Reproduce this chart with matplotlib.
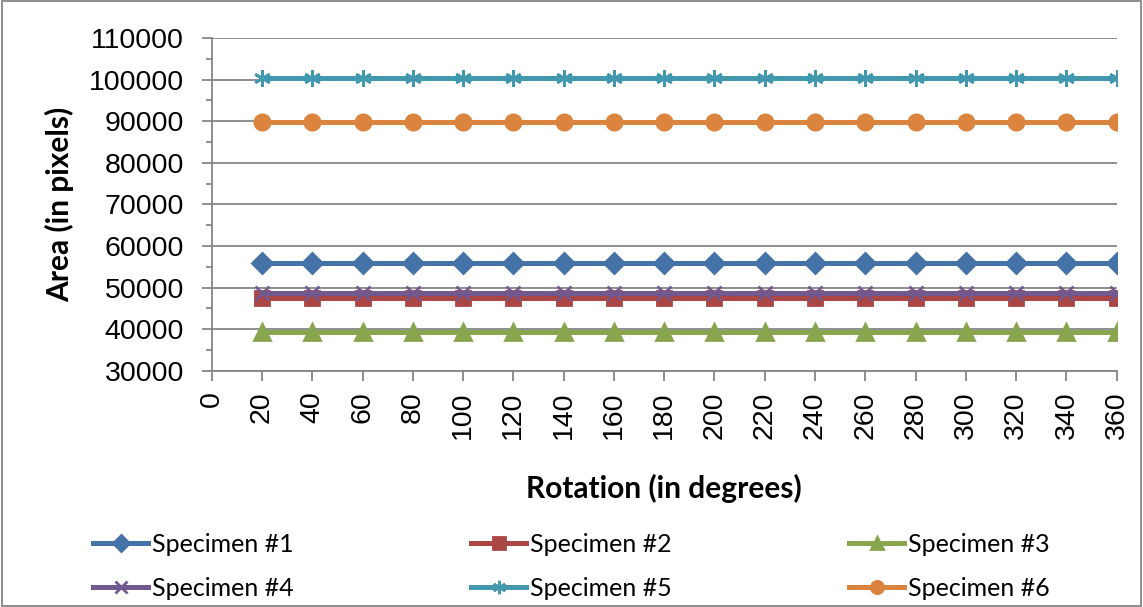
import matplotlib
matplotlib.use("Agg")
import matplotlib.pyplot as plt
from matplotlib.patches import Rectangle
from matplotlib.ticker import MultipleLocator

# Rotation angles (degrees) and measured areas (pixels) per specimen
rotation = [20, 40, 60, 80, 100, 120, 140, 160, 180, 200,
            220, 240, 260, 280, 300, 320, 340, 360]
specimen_1 = [56000] * 18
specimen_2 = [47500] * 18
specimen_3 = [39300] * 18
specimen_4 = [48700] * 18
specimen_5 = [100400] * 18
specimen_6 = [89800] * 18

x_ticks = list(range(0, 361, 20))
y_ticks = list(range(30000, 110001, 10000))

series_names = ["Specimen #1", "Specimen #2", "Specimen #3",
                "Specimen #4", "Specimen #5", "Specimen #6"]
series_values = [specimen_1, specimen_2, specimen_3,
                 specimen_4, specimen_5, specimen_6]

colors = ["#4572A7", "#AA4643", "#89A54E", "#71588F", "#4198AF", "#DB843D"]
markers = ["D", "s", "^", "x", (6, 2, 0), "o"]
msizes = [10, 10, 11, 10, 12, 11]

tick_font = "Liberation Sans"
label_font = "Lato"

fig = plt.figure(figsize=(11.43, 6.07), dpi=100)
ax = fig.add_axes([0.1852, 0.3893, 0.977 - 0.1852, 0.9374 - 0.3893])

handles = []
for name, vals, c, m, ms in zip(series_names, series_values, colors, markers, msizes):
    h, = ax.plot(rotation, vals, color=c, lw=3.6, marker=m, ms=ms,
                 mew=2.0, mec=c, mfc=c, label=name, zorder=3)
    handles.append(h)

ax.set_xlim(0, 360)
ax.set_ylim(30000, 110000)
ax.set_xticks(x_ticks)
ax.set_yticks(y_ticks)
ax.yaxis.set_minor_locator(MultipleLocator(5000))

grid_c = "#868686"
ax.grid(axis="y", which="major", color=grid_c, lw=1.3, zorder=0)
for side in ("top", "right"):
    ax.spines[side].set_visible(False)
for side in ("left", "bottom"):
    ax.spines[side].set_color(grid_c)
    ax.spines[side].set_linewidth(1.3)

ax.tick_params(axis="both", which="major", direction="out", length=7,
               width=1.3, color=grid_c)
ax.tick_params(axis="y", which="minor", direction="out", length=4.5,
               width=1.3, color=grid_c)
ax.tick_params(axis="x", which="minor", bottom=False)

ax.set_xticklabels([str(v) for v in x_ticks], rotation=90,
                   fontsize=20.5, family=tick_font)
ax.set_yticklabels([str(v) for v in y_ticks], fontsize=20.5, family=tick_font)
ax.tick_params(axis="x", pad=8)
ax.tick_params(axis="y", pad=13)

ax.set_xlabel("Rotation (in degrees)", fontsize=21.5, fontweight="bold",
              family=label_font)
ax.xaxis.set_label_coords(0.5, -0.31)
ax.set_ylabel("Area (in pixels)", fontsize=21.5, fontweight="bold",
              family=label_font)
ax.yaxis.set_label_coords(-0.152, 0.5)

# legend is filled column by column, so order handles to read row by row
order = [0, 3, 1, 4, 2, 5]
fig.legend(handles=[handles[i] for i in order], loc="center left",
           bbox_to_anchor=(93 / 1143, 0.0675), ncol=3, frameon=False,
           prop={"family": label_font, "size": 18}, borderpad=0,
           borderaxespad=0, markerscale=0.8,
           handlelength=2.2, handletextpad=0.16, columnspacing=7.1,
           labelspacing=0.84, numpoints=1)

fig.patches.append(Rectangle((0.002, 0.002), 0.996, 0.996,
                             transform=fig.transFigure, fill=False,
                             edgecolor="#868686", lw=1.3))

fig.savefig("out.png", dpi=100)
